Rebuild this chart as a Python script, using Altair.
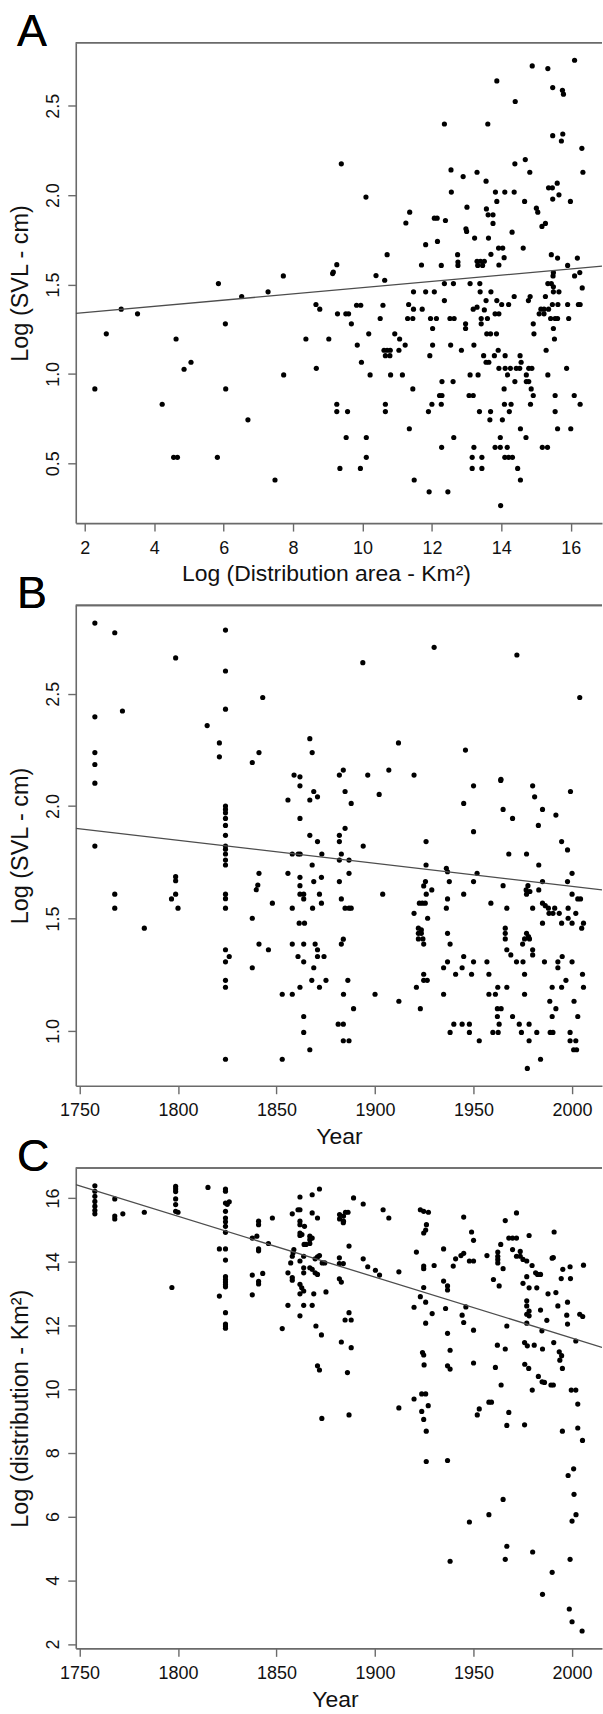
import altair as alt
import pandas as pd

# ---------------- Panel A: Log(Distribution area) vs Log(SVL) ----------------
a_area = [
    9.39, 10.10, 12.36, 13.61, 13.87, 14.40, 14.89, 15.34, 15.48, 15.76,
    15.79, 16.11, 15.48, 15.77, 15.73, 16.32, 16.35, 14.39, 14.69, 12.55,
    12.90, 13.30, 14.82, 13.56, 12.56, 13.83, 14.10, 14.37, 15.36, 15.47,
    15.61, 15.66, 15.48, 15.99, 13.87, 14.67,
    11.36, 11.25, 13.01, 12.07, 12.15, 12.39, 13.57, 13.62, 13.76, 13.76,
    15.01, 15.05, 15.17, 15.27, 12.98, 13.00, 14.31, 11.82, 12.16, 13.23,
    13.63, 13.92, 14.04, 14.63, 10.71, 12.74, 13.70, 15.44, 14.08, 12.75,
    12.75, 13.30, 13.40, 13.51, 13.32, 13.46, 13.93, 12.27, 11.70, 15.62,
    16.19, 15.91, 9.26, 9.16, 9.14, 10.64, 10.39, 16.26, 16.11, 15.50,
    15.49, 15.34, 15.44, 15.50, 15.50, 15.27, 15.66, 16.33, 12.36, 12.62,
    13.10, 13.38, 11.47, 12.07, 11.82, 13.39, 13.70, 13.87, 13.56, 12.36,
    14.37, 14.78, 14.83, 5.85, 7.72, 7.28, 6.52, 3.05, 3.52, 2.62,
    2.29, 6.05, 4.63, 4.86, 5.06, 6.06, 7.73, 8.37, 8.67, 8.66,
    8.77, 9.03, 9.28, 9.52, 9.60, 9.68, 9.83, 9.95, 9.85, 9.97,
    10.18, 10.22, 10.51, 10.59, 10.93, 10.62, 10.71, 10.80, 10.66, 10.79,
    10.81, 11.07, 11.23, 11.05, 11.15, 11.30, 11.45, 11.33, 11.47, 11.45,
    11.72, 11.96, 12.13, 12.02, 12.02, 11.94, 12.52, 12.64, 12.54, 12.29,
    12.61, 12.22, 12.29, 12.85, 12.97, 12.97, 13.07, 13.19, 13.10, 13.33,
    13.21, 13.19, 13.30, 13.42, 13.42, 13.51, 13.60, 13.49, 13.56, 13.64,
    13.58, 13.69, 13.82, 13.93, 13.86, 13.80, 14.11, 13.91, 14.01, 14.08,
    13.93, 14.11, 14.26, 14.18, 14.39, 14.21, 14.54, 14.57, 14.43, 14.53,
    14.72, 14.72, 14.79, 14.86, 14.92, 14.79, 14.88, 14.92, 14.94, 15.14,
    15.23, 15.36, 15.09, 15.23, 15.47, 15.63, 15.42, 15.55, 15.50, 15.53,
    15.29, 15.34, 15.62, 15.94, 15.91, 16.22, 16.27, 15.88, 15.55, 16.10,
    4.23, 9.26, 9.26, 9.57, 10.66, 10.66, 12.00, 12.27, 11.90, 13.37,
    13.69, 13.67, 14.09, 14.28, 14.23, 14.84, 16.27, 15.55, 14.03, 14.55,
    15.62, 16.00, 11.35, 6.70, 9.53, 10.11, 12.63, 13.97, 14.71, 12.28,
    13.21, 13.82, 13.97, 14.17, 15.18, 15.33, 4.56, 4.67, 5.82, 10.11,
    13.16, 13.44, 14.10, 14.21, 14.32, 9.35, 9.94, 13.16, 13.44, 14.47,
    7.48, 11.49, 14.55, 11.92, 12.46, 13.98,
]
a_svl = [
    2.175, 1.989, 2.398, 2.398, 2.639, 2.524, 2.723, 2.708, 2.602, 2.587,
    2.565, 2.755, 2.333, 2.342, 2.303, 2.262, 2.128, 2.175, 2.199, 2.141,
    2.104, 2.128, 2.128, 2.078, 2.017, 2.017, 2.017, 2.017, 2.041, 2.041,
    2.067, 2.002, 1.978, 1.965, 1.965, 1.965,
    1.905, 1.844, 1.933, 1.871, 1.871, 1.858, 1.923, 1.890, 1.890, 1.842,
    1.927, 1.905, 1.825, 1.842, 1.812, 1.797, 1.793, 1.723, 1.741, 1.760,
    1.760, 1.704, 1.704, 1.704, 1.667, 1.667, 1.669, 1.667, 1.650, 1.626,
    1.607, 1.630, 1.630, 1.630, 1.607, 1.607, 1.609, 1.607, 1.609, 1.648,
    1.648, 1.607, 1.611, 1.570, 1.561, 1.524, 1.550, 1.567, 1.548, 1.567,
    1.548, 1.505, 1.505, 1.487, 1.459, 1.433, 1.459, 1.481, 1.505, 1.505,
    1.505, 1.505, 1.459, 1.459, 1.459, 1.459, 1.459, 1.410, 1.410, 1.410,
    1.433, 1.410, 1.433, 1.505, 1.548, 1.459, 1.433, 1.362, 1.336, 1.224,
    0.916, 1.280, 1.195, 1.026, 1.065, 0.916, 0.994, 1.195, 1.031, 1.388,
    1.362, 1.195, 1.336, 1.336, 1.336, 1.280, 1.384, 1.384, 1.161, 1.065,
    1.224, 0.994, 1.310, 1.384, 1.224, 1.132, 1.132, 1.132, 1.102, 1.102,
    0.994, 1.195, 1.161, 1.132, 0.994, 1.310, 1.310, 1.388, 1.362, 0.916,
    1.362, 1.310, 1.310, 1.254, 1.161, 1.102, 1.310, 1.310, 1.161, 0.957,
    0.957, 0.879, 0.879, 1.132, 1.254, 1.280, 0.879, 0.879, 0.994, 0.994,
    1.161, 1.362, 1.373, 1.310, 1.280, 1.358, 1.310, 1.102, 1.065, 1.065,
    1.224, 1.224, 1.336, 1.336, 1.224, 1.102, 1.102, 1.132, 1.388, 0.916,
    1.031, 1.031, 1.031, 0.994, 0.957, 1.388, 1.102, 1.065, 1.031, 1.031,
    0.994, 0.957, 0.957, 0.916, 0.879, 1.031, 1.031, 1.280, 1.224, 1.362,
    1.362, 1.362, 1.336, 1.336, 1.388, 1.388, 1.310, 1.310, 1.254, 1.195,
    1.132, 0.994, 1.310, 1.310, 1.388, 1.388, 1.388, 1.031, 0.879, 0.879,
    0.830, 0.830, 0.789, 0.789, 0.830, 0.789, 0.830, 0.830, 0.789, 0.789,
    0.789, 0.743, 0.830, 0.830, 0.789, 0.830, 0.830, 0.789, 0.743, 0.693,
    0.693, 0.693, 0.693, 0.743, 0.644, 0.644, 0.644, 0.644, 0.644, 0.589,
    0.589, 0.589, 0.589, 0.589, 0.589, 0.589, 0.533, 0.533, 0.533, 0.533,
    0.533, 0.533, 0.533, 0.533, 0.533, 0.471, 0.471, 0.471, 0.471, 0.471,
    0.406, 0.406, 0.406, 0.340, 0.340, 0.263,
]
a_fit_x = [1.74, 16.90]
a_fit_y = [1.338, 1.603]

# ---------------- Panel B: Year vs Log(SVL) ----------------
b_year = [
    1757.8, 1767.9, 1824.1, 1798.8, 1824.1, 1893.8, 1930.0, 1972.0, 1843.0, 2003.9,
    1757.8, 1771.8, 1824.1, 1814.8, 1821.0, 1866.9, 1911.9, 1945.9, 1757.8, 1841.1,
    1868.1, 1821.0, 1963.9,
    1757.8, 1757.8, 1757.8, 1767.9, 1767.9, 1782.9, 1796.7, 1798.8, 1798.8, 1798.8,
    1800.0, 1824.1, 1824.1, 1824.1, 1824.1, 1824.1, 1824.1, 1824.1, 1824.1, 1824.1,
    1824.1, 1824.1, 1824.1, 1824.1, 1824.1, 1824.1, 1826.0, 1837.7, 1837.7, 1841.1,
    1840.5, 1839.7, 1841.1, 1845.9, 1847.9, 1855.8, 1855.8, 1858.9, 1861.9, 1861.9,
    1861.9, 1858.0, 1863.8, 1858.0, 1858.0, 1861.0, 1862.0, 1861.9, 1861.9, 1861.9,
    1863.8, 1863.8, 1861.5, 1864.2, 1860.9, 1866.9, 1868.1, 1868.9, 1866.9, 1870.8,
    1870.8, 1868.9, 1868.3, 1873.0, 1872.8, 1871.8, 1872.8, 1869.6, 1870.8, 1870.8,
    1874.1, 1881.9, 1883.9, 1884.8, 1887.9, 1884.8, 1881.9, 1881.9, 1882.9, 1881.9,
    1886.8, 1886.8, 1881.9, 1882.9, 1884.8, 1886.8, 1887.9, 1882.9, 1883.9, 1894.0,
    1896.3, 1902.1, 1907.0, 1903.9, 1919.8, 1925.9, 1925.9, 1919.8, 1922.0, 1923.5,
    1922.0, 1923.5, 1922.0, 1924.3, 1924.7, 1922.5, 1924.0, 1925.5, 1924.7, 1925.6,
    1926.0, 1928.8, 1926.7, 1936.2, 1936.8, 1937.7, 1936.2, 1936.8, 1936.8, 1938.1,
    1945.0, 1950.0, 1950.0, 1950.0, 1951.8, 1945.0, 1945.0, 1958.8, 1963.8, 1965.0,
    1969.8, 1967.9, 1965.0, 1966.9, 1966.1, 1966.1, 1966.1, 1966.9, 1968.9, 1976.9,
    1980.0, 1981.0, 1982.9, 1983.1, 1985.0, 1985.0, 1983.1, 1977.6, 1978.6, 1976.9,
    1976.7, 1980.0, 1976.9, 1977.9, 1975.9, 1978.4, 1974.9, 1980.0, 1980.0, 1985.0,
    1986.4, 1988.0, 1988.3, 1990.3, 1991.2, 1985.0, 1991.8, 1994.7, 1997.7, 1999.2,
    2000.0, 1997.7, 2000.0, 2002.9, 2004.3, 1993.5, 1998.0, 2000.0, 2001.9, 1994.7,
    1998.0, 2005.8, 2004.9, 1995.0,
    1824.1, 1824.1, 1824.1, 1824.1, 1837.7, 1852.9, 1852.9, 1858.0, 1861.9, 1863.8,
    1868.9, 1867.9, 1871.8, 1875.1, 1863.8, 1863.8, 1866.9, 1884.0, 1886.2, 1881.3,
    1883.9, 1883.9, 1886.8, 1889.1, 1900.0, 1912.1, 1921.0, 1923.0, 1924.7, 1924.7,
    1926.5, 1934.8, 1936.8, 1934.8, 1940.9, 1944.2, 1949.0, 1950.0, 1940.0, 1944.2,
    1947.9, 1938.1, 1947.9, 1952.9, 1956.8, 1957.8, 1957.8, 1961.1, 1962.3, 1966.9,
    1962.1, 1964.0, 1962.1, 1963.0, 1959.8, 1962.5, 1969.8, 1971.8, 1975.1, 1975.9,
    1975.9, 1973.2, 1978.2, 1974.3, 1982.1, 1978.2, 1977.3, 1984.0, 1986.0, 1992.8,
    1992.8, 1989.9, 1994.7, 1996.9, 1988.7, 1991.8, 1989.9, 1988.9, 1990.3, 2000.0,
    2001.0, 2002.9, 1999.0, 1999.0, 2001.9, 2000.8, 2002.3, 2005.3, 2005.8,
]
b_svl = [
    2.814, 2.771, 2.783, 2.659, 2.601, 2.638, 2.706, 2.672, 2.483, 2.483,
    2.397, 2.423, 2.431, 2.358, 2.281, 2.300, 2.281, 2.249, 2.238, 2.238,
    2.238, 2.219, 2.119,
    2.185, 2.102, 1.822, 1.608, 1.546, 1.457, 1.587, 1.686, 1.668, 1.608,
    1.546, 2.000, 1.985, 1.970, 1.945, 1.914, 1.870, 1.822, 1.808, 1.787,
    1.760, 1.738, 1.608, 1.588, 1.546, 1.361, 1.331, 2.194, 1.501, 1.701,
    1.649, 1.628, 1.386, 1.361, 1.568, 1.701, 2.027, 2.138, 2.130, 2.090,
    1.945, 1.386, 1.386, 1.546, 1.787, 1.787, 1.787, 1.683, 1.646, 1.608,
    1.608, 1.587, 1.479, 1.479, 1.331, 1.870, 1.738, 2.065, 2.027, 2.041,
    1.842, 1.664, 1.546, 1.787, 1.683, 1.608, 1.568, 1.386, 1.361, 1.331,
    1.331, 2.138, 2.160, 2.065, 2.012, 1.901, 1.870, 1.842, 1.787, 1.760,
    1.760, 1.701, 1.664, 1.587, 1.546, 1.546, 1.546, 1.386, 1.408, 1.822,
    2.138, 2.052, 2.160, 1.608, 2.138, 1.842, 1.738, 1.523, 1.457, 1.449,
    1.434, 1.434, 1.409, 1.409, 1.386, 1.568, 1.568, 1.568, 1.645, 1.664,
    1.608, 1.627, 1.501, 1.723, 1.708, 1.664, 1.546, 1.587, 1.434, 1.386,
    2.012, 2.090, 1.886, 1.664, 1.701, 1.608, 1.331, 1.568, 2.114, 1.985,
    1.945, 1.787, 1.646, 1.546, 1.457, 1.434, 1.409, 1.361, 1.338, 1.787,
    2.090, 2.041, 1.914, 1.738, 1.985, 1.664, 1.627, 1.646, 1.620, 1.608,
    1.627, 1.546, 1.434, 1.420, 1.409, 1.409, 1.386, 1.361, 1.338, 1.568,
    1.557, 1.546, 1.523, 1.523, 1.546, 1.479, 1.960, 1.842, 1.805, 2.065,
    1.701, 1.664, 1.608, 1.587, 1.587, 1.523, 1.501, 1.479, 1.523, 1.479,
    1.546, 1.479, 1.457, 1.331,
    1.307, 1.225, 1.194, 0.874, 1.281, 1.163, 0.874, 1.163, 1.194, 1.307,
    1.281, 1.225, 1.194, 1.225, 1.064, 0.993, 0.916, 1.163, 1.225, 1.030,
    1.030, 0.956, 0.956, 1.099, 1.163, 1.132, 1.194, 1.099, 1.252, 1.225,
    1.225, 1.281, 1.307, 1.163, 1.252, 1.281, 1.252, 1.307, 1.030, 1.030,
    1.030, 0.993, 0.993, 0.956, 1.307, 1.252, 1.163, 1.163, 1.194, 1.194,
    1.099, 1.099, 1.064, 1.030, 0.993, 0.993, 1.064, 1.307, 1.307, 1.252,
    1.163, 1.030, 1.030, 0.993, 0.993, 0.956, 0.833, 0.874, 1.307, 1.307,
    1.281, 1.194, 1.194, 1.225, 1.132, 1.099, 1.064, 0.993, 0.993, 1.307,
    1.132, 1.064, 0.993, 0.956, 0.956, 0.916, 0.916, 1.252, 1.194,
]
b_fit_x = [1748.1, 2015.2]
b_fit_y = [1.901, 1.627]

# ---------------- Panel C: Year vs Log(distribution) ----------------
c_year = [
    1757.8, 1757.8, 1757.8, 1757.8, 1757.8, 1757.8, 1757.8, 1767.9, 1767.9, 1767.9,
    1772.0, 1782.9, 1798.8, 1798.8, 1798.8, 1798.8, 1798.8, 1798.8, 1800.0, 1796.9,
    1815.2, 1824.1, 1824.1, 1824.1, 1825.0, 1824.1, 1824.1, 1824.1, 1824.1, 1824.1,
    1826.0, 1821.0, 1824.1, 1824.1, 1824.1, 1824.1, 1824.1, 1824.1, 1824.1, 1821.0,
    1824.1, 1824.1, 1824.1, 1824.1,
    1837.7, 1840.0, 1840.9, 1840.9, 1840.9, 1840.9, 1845.9, 1847.9, 1837.7, 1843.0,
    1840.9, 1840.9, 1837.7, 1852.9, 1855.8, 1858.0, 1858.0, 1858.0, 1861.9, 1861.9,
    1860.9, 1861.9, 1861.9, 1861.9, 1861.9, 1862.9, 1864.2, 1868.1, 1868.1, 1870.8,
    1871.8, 1866.9, 1868.1, 1866.9, 1866.9, 1864.0, 1865.0, 1858.8, 1858.4, 1863.8,
    1869.6, 1870.8, 1871.8, 1873.2, 1874.5, 1857.2, 1858.0, 1861.9, 1863.8, 1863.8,
    1866.9, 1868.1, 1869.6, 1870.8, 1861.9, 1862.8, 1863.8, 1861.9, 1868.9, 1875.1,
    1855.8, 1863.8, 1868.1, 1861.9, 1870.0, 1872.8,
    1882.0, 1882.0, 1884.0, 1884.0, 1885.0, 1886.3, 1883.9, 1881.9, 1881.9, 1883.9,
    1881.9, 1882.9, 1886.8, 1886.8, 1884.8, 1887.9, 1882.9, 1887.9, 1889.1, 1894.0,
    1894.0, 1896.3, 1900.2, 1902.3, 1904.1, 1907.0, 1912.1, 1923.0, 1924.7, 1927.1,
    1926.1, 1924.7, 1925.7, 1921.0, 1924.7, 1924.7, 1930.0, 1923.0, 1925.7, 1919.8,
    1924.7, 1929.0, 1925.7, 1924.1, 1924.7,
    1934.8, 1934.8, 1936.8, 1936.8, 1935.8, 1936.8, 1938.1, 1939.7, 1940.9, 1943.6,
    1945.0, 1945.0, 1949.0, 1950.0, 1947.9, 1950.0, 1944.2, 1945.0, 1946.1, 1950.0,
    1956.8, 1960.1, 1962.3, 1962.3, 1962.3, 1962.3, 1963.0, 1965.0, 1963.8, 1966.1,
    1967.9, 1969.8, 1971.8, 1969.8, 1971.8, 1973.7, 1971.8, 1973.7, 1975.1, 1977.0,
    1978.2, 1975.1, 1977.0, 1978.2, 1979.7, 1981.5, 1982.5, 1984.0, 1982.1, 1977.0,
    1977.0, 1978.2, 1977.0, 1978.2, 1977.0, 1984.0, 1984.7, 1987.2, 1987.8, 1989.9,
    1990.5, 1990.9, 1991.8, 1992.8, 1995.3, 1994.5, 1997.7, 1997.3, 1997.7, 1999.0,
    1999.2, 2003.9, 2005.4, 2005.8, 1966.9, 1962.1, 1966.1, 1975.9, 1977.3, 1980.8,
    1985.0, 1990.7, 1993.5, 1994.7, 2001.9,
    1870.8, 1871.8, 1886.0, 1873.0, 1886.8, 1912.1, 1919.8, 1923.7, 1925.7, 1923.7,
    1924.7, 1927.0, 1926.0, 1926.0, 1924.9, 1936.8, 1938.1, 1936.8, 1950.0, 1952.9,
    1951.9, 1957.8, 1959.1, 1961.1, 1964.0, 1967.9, 1966.9, 1976.0, 1978.0, 1979.8,
    1982.9, 1984.8, 1986.0, 1989.3, 1990.5, 1975.9, 1993.8, 1995.1, 1999.6, 2001.9,
    2002.9, 1995.1, 2002.9, 2005.3, 2000.8, 1998.0, 2001.0, 2002.0, 2000.0, 1965.0,
    1957.8, 1947.9, 1966.9, 1980.0,
    1938.1, 1966.1, 1999.0, 1989.9, 1985.0, 1998.6, 2000.0, 2005.1,
]
c_area = [
    16.38, 16.21, 16.05, 15.89, 15.74, 15.61, 15.50, 15.97, 15.43, 15.34,
    15.50, 15.55, 16.36, 16.28, 16.20, 15.97, 15.79, 15.58, 15.55, 13.19,
    16.33, 16.28, 16.21, 15.84, 15.80, 15.58, 15.37, 15.25, 15.11, 14.92,
    15.88, 14.40, 14.40, 14.05, 13.53, 13.44, 13.36, 13.28, 13.21, 12.92,
    12.40, 12.04, 11.98, 11.91,
    14.74, 14.80, 15.27, 15.16, 14.40, 14.34, 14.57, 15.37, 13.58, 13.63,
    13.38, 13.30, 12.96, 11.90, 13.65, 13.50, 13.42, 15.50, 16.03, 15.63,
    15.63, 15.27, 15.16, 14.90, 14.82, 14.85, 15.11, 16.10, 15.53, 15.37,
    16.28, 14.80, 14.74, 14.69, 14.57, 14.54, 14.54, 14.38, 14.28, 14.17,
    14.09, 14.15, 14.19, 13.96, 13.96, 13.96, 14.17, 14.02, 13.65, 13.81,
    13.81, 13.76, 13.65, 13.60, 13.29, 13.18, 13.08, 12.99, 12.99, 13.05,
    12.63, 12.63, 12.63, 12.30, 11.98, 11.70,
    15.48, 15.34, 15.43, 15.27, 15.55, 15.55, 15.22, 14.12, 13.94, 13.94,
    13.46, 13.36, 14.49, 12.40, 12.17, 12.17, 11.48, 11.30, 16.00, 15.81,
    14.09, 13.84, 13.73, 13.58, 15.63, 15.37, 13.68, 15.63, 15.58, 15.55,
    15.16, 14.90, 14.99, 14.30, 13.86, 13.78, 13.88, 12.90, 12.73, 12.57,
    13.19, 12.37, 12.07, 11.15, 11.07,
    14.40, 13.39, 13.24, 13.11, 12.53, 11.75, 11.22, 13.86, 14.09, 14.19,
    14.26, 15.40, 14.93, 14.67, 14.02, 14.02, 12.32, 12.09, 12.58, 11.85,
    14.19, 13.44, 14.30, 14.17, 14.07, 13.96, 13.24, 13.78, 14.54, 15.29,
    14.74, 14.74, 14.74, 14.38, 14.17, 14.17, 15.53, 14.32, 14.07, 14.02,
    14.82, 13.32, 13.53, 13.18, 13.88, 13.65, 13.60, 13.60, 13.18, 12.77,
    12.61, 12.45, 12.35, 12.30, 12.07, 12.48, 11.83, 12.16, 12.99, 14.11,
    14.13, 14.93, 13.03, 12.61, 13.76, 13.47, 12.73, 12.32, 12.04, 13.84,
    13.47, 12.35, 12.28, 13.89, 11.98, 11.38, 11.26, 11.46, 11.36, 11.38,
    11.26, 11.46, 11.17, 11.05, 11.51,
    10.73, 10.60, 10.52, 9.08, 9.19, 9.41, 9.69, 9.85, 9.85, 9.30,
    9.05, 9.48, 8.68, 7.73, 10.76, 10.73, 10.63, 7.76, 10.82, 9.38,
    9.19, 9.59, 9.59, 10.68, 10.13, 9.27, 8.86, 10.78, 10.65, 9.97,
    10.40, 10.23, 10.21, 10.13, 10.13, 8.88, 10.91, 10.65, 9.97, 9.97,
    9.53, 8.68, 8.78, 8.39, 7.50, 7.29, 6.70, 6.06, 5.86, 6.54,
    6.06, 5.83, 5.07, 4.89,
    4.60, 4.66, 4.66, 4.25, 3.56, 3.10, 2.70, 2.41,
]
c_fit_x = [1748.1, 2015.2]
c_fit_y = [16.42, 11.31]

# ---------------- styling ----------------
FONT = "Liberation Sans"
AXIS_COL = "#6a6a6a"
W, H = 528, 482


def panel(xs, ys, fx, fy, xdom, ydom, xticks, yticks, xfmt, yfmt,
          xtitle, ytitle, letter, xtitle_x):
    df = pd.DataFrame({"x": xs, "y": ys})
    fit = pd.DataFrame({"x": fx, "y": fy})
    xaxis = alt.Axis(values=xticks, format=xfmt, title=xtitle, grid=False,
                     labelFont=FONT, labelFontSize=18, labelColor="#111",
                     labelBaseline="alphabetic", labelPadding=22,
                     labelFlush=False, labelOverlap=False,
                     tickSize=8, tickColor=AXIS_COL, tickWidth=1.4,
                     domainColor=AXIS_COL, domainWidth=1.6,
                     titleFont=FONT, titleFontSize=23, titleFontWeight="normal",
                     titleColor="#111", titleBaseline="alphabetic",
                     titleY=58, titleX=xtitle_x, titleAlign="center")
    yaxis = alt.Axis(values=yticks, format=yfmt, title=ytitle, grid=False,
                     labelFont=FONT, labelFontSize=18, labelColor="#111",
                     labelAngle=270, labelAlign="center",
                     labelBaseline="alphabetic", labelPadding=9,
                     labelFlush=False, labelOverlap=False,
                     tickSize=8, tickColor=AXIS_COL, tickWidth=1.4,
                     domainColor=AXIS_COL, domainWidth=1.6,
                     titleFont=FONT, titleFontSize=23.5, titleFontWeight="normal",
                     titleColor="#111", titleAngle=270, titleAlign="center",
                     titleBaseline="alphabetic", titleX=-48, titleY=H / 2)
    xs_ = alt.Scale(domain=xdom, nice=False, zero=False)
    ys_ = alt.Scale(domain=ydom, nice=False, zero=False)

    pts = alt.Chart(df).mark_circle(size=27, color="black", opacity=1).encode(
        x=alt.X("x:Q", scale=xs_, axis=xaxis),
        y=alt.Y("y:Q", scale=ys_, axis=yaxis),
    )
    line = alt.Chart(fit).mark_line(color="#4d4d4d", strokeWidth=1.3, clip=True).encode(
        x=alt.X("x:Q", scale=xs_),
        y=alt.Y("y:Q", scale=ys_),
    )
    top = alt.Chart(fit).mark_rule(color=AXIS_COL, strokeWidth=1.6).encode(
        x=alt.value(0), x2=alt.value(W), y=alt.value(0)
    )
    tag = alt.Chart(fit).mark_text(
        text=letter, align="left", baseline="alphabetic", fontSize=45,
        font=FONT, color="black"
    ).encode(x=alt.value(-59), y=alt.value(3))
    return alt.layer(pts, line, top, tag).properties(width=W, height=H)


pa = panel(a_area, a_svl, a_fit_x, a_fit_y, [1.74, 16.90], [0.165, 2.853],
           [2, 4, 6, 8, 10, 12, 14, 16], [0.5, 1.0, 1.5, 2.0, 2.5], "d", ".1f",
           "Log (Distribution area - Km²)", "Log (SVL - cm)", "A", 251)
pb = panel(b_year, b_svl, b_fit_x, b_fit_y, [1748.1, 2015.2], [0.756, 2.893],
           [1750, 1800, 1850, 1900, 1950, 2000], [1.0, 1.5, 2.0, 2.5], "d", ".1f",
           "Year", "Log (SVL - cm)", "B", 264)
pc = panel(c_year, c_area, c_fit_x, c_fit_y, [1748.1, 2015.2], [1.865, 16.94],
           [1750, 1800, 1850, 1900, 1950, 2000], [2, 4, 6, 8, 10, 12, 14, 16], "d", "d",
           "Year", "Log (distribution - Km²)", "C", 260)

chart = alt.vconcat(pa, pb, pc, spacing=82.5, bounds="flush").properties(
    padding={"left": 9, "top": 7, "right": 0, "bottom": 0}
).configure_view(stroke=None)

chart.save("out.html", embed_options={"renderer": "svg", "actions": False})
